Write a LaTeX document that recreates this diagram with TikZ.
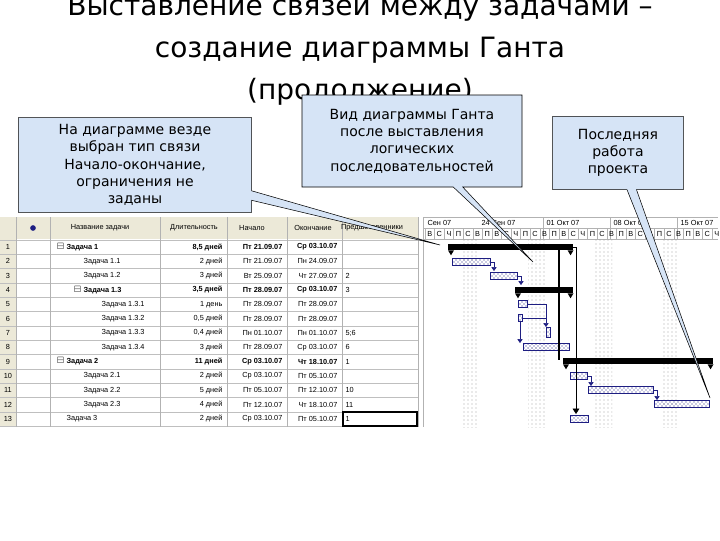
\documentclass[tikz,border=0pt]{standalone}
\usepackage{amssymb}
\usepackage{fontspec}
\setmainfont{DejaVu Sans}
\newfontfamily\tbl{Liberation Sans}
\usetikzlibrary{shapes.callouts,patterns,arrows.meta}
\definecolor{navyb}{RGB}{30,30,130}
\definecolor{hdr}{RGB}{236,233,216}
\definecolor{cbl}{RGB}{214,228,246}
\tikzset{
 cell/.style={font=\tbl\fontsize{5.5}{6}\selectfont,inner sep=1pt},
 callbox/.style={rectangle callout,draw=black,fill=cbl,font=\fontsize{10.5}{13}\selectfont,align=center,inner sep=3pt},
 taskbar/.style={draw=navyb,pattern=crosshatch dots,pattern color=navyb},
 sumbar/.style={fill=black},
 lnk/.style={draw=navyb,-{Triangle[length=3pt,width=4pt]}},
}
\begin{document}
\begin{tikzpicture}[x=0.75pt,y=-0.75pt]
\useasboundingbox (0,0) rectangle (720,540);
\fill[white] (0,0) rectangle (720,540);
% title
\node (t1) at (360,8) {\fontsize{21}{25}\selectfont Выставление связей между задачами –};
\node (t2) at (360,50) {\fontsize{21}{25}\selectfont создание диаграммы Ганта};
\node (t3) at (360,92) {\fontsize{21}{25}\selectfont (продолжение)};
% table
\fill[hdr] (0,217) rectangle (418,239);
\fill[hdr] (0,239) rectangle (16,427);
\foreach \i in {0,...,13} \draw[gray!50,line width=0.3pt] (0,{239.8+\i*14.33}) -- (418,{239.8+\i*14.33});
\foreach \x in {16,50,160,227,287,342} \draw[gray!60,line width=0.3pt] (\x,217) -- (\x,427);
\draw[gray!60] (418,217) -- (418,427) (423,217)--(423,427);
\node[circle,fill=navyb,inner sep=1.5pt] (ic) at (33,228) {};
\node[cell] (h1) at (100,228) {Название задачи};
\node[cell] (h2) at (194,228) {Длительность};
\node[cell] (h3) at (252,228) {Начало};
\node[cell] (h4) at (313,228) {Окончание};
\node[cell] (h5) at (372,228) {Предшественники};
\foreach \n/\ind/\nm/\d/\s/\e/\p [count=\k] in {
 {1/55/\textbf{$\boxminus$ Задача 1}/\textbf{8,5 дней}/\textbf{Пт 21.09.07}/\textbf{Ср 03.10.07}/},
 {2/82/Задача 1.1/2 дней/Пт 21.09.07/Пн 24.09.07/},
 {3/82/Задача 1.2/3 дней/Вт 25.09.07/Чт 27.09.07/2},
 {4/72/\textbf{$\boxminus$ Задача 1.3}/\textbf{3,5 дней}/\textbf{Пт 28.09.07}/\textbf{Ср 03.10.07}/3},
 {5/100/Задача 1.3.1/1 день/Пт 28.09.07/Пт 28.09.07/},
 {6/100/Задача 1.3.2/0,5 дней/Пт 28.09.07/Пт 28.09.07/},
 {7/100/Задача 1.3.3/0,4 дней/Пн 01.10.07/Пн 01.10.07/5;6},
 {8/100/Задача 1.3.4/3 дней/Пт 28.09.07/Ср 03.10.07/6},
 {9/55/\textbf{$\boxminus$ Задача 2}/\textbf{11 дней}/\textbf{Ср 03.10.07}/\textbf{Чт 18.10.07}/1},
 {10/82/Задача 2.1/2 дней/Ср 03.10.07/Пт 05.10.07/},
 {11/82/Задача 2.2/5 дней/Пт 05.10.07/Пт 12.10.07/10},
 {12/82/Задача 2.3/4 дней/Пт 12.10.07/Чт 18.10.07/11},
 {13/65/Задача 3/2 дней/Ср 03.10.07/Пт 05.10.07/1}}
{
 \pgfmathsetmacro\yy{247+(\k-1)*14.33}
 \node[cell] (n\k) at (8,\yy) {\n};
 \node[cell,anchor=west] (a\k) at (\ind,\yy) {\nm};
 \node[cell,anchor=east] (b\k) at (224,\yy) {\d};
 \node[cell,anchor=east] (c\k) at (284,\yy) {\s};
 \node[cell,anchor=east] (d\k) at (339,\yy) {\e};
 \node[cell,anchor=west] (e\k) at (344,\yy) {\p};
}
\draw[line width=1pt] (343,412) rectangle (417,426);
% timescale
\draw[gray!60] (423,228) -- (718,228) (423,239) -- (718,239) (423,217)--(718,217);
\foreach \x in {543,610,677} \draw[gray!60] (\x,217)--(\x,239);
\node[cell,anchor=west] (w1) at (426,222.5) {Сен 07};
\node[cell,anchor=west] (w2) at (480,222.5) {24 Сен 07};
\node[cell,anchor=west] (w3) at (545,222.5) {01 Окт 07};
\node[cell,anchor=west] (w4) at (612,222.5) {08 Окт 07};
\node[cell,anchor=west] (w5) at (679,222.5) {15 Окт 07};
\foreach \l [count=\j from 0] in {В,С,Ч,П,С,В,П,В,С,Ч,П,С,В,П,В,С,Ч,П,С,В,П,В,С,Ч,П,С,В,П,В,С,Ч}{
 \node[cell] (dl\j) at ({429.8+\j*9.57},233.5) {\l};
 \draw[gray!60] ({425+\j*9.57},228)--({425+\j*9.57},239);
}
\foreach \x in {462,528,595,662} \fill[pattern=dots,pattern color=gray!70] (\x,239) rectangle (\x+17,427);
% gantt bars
\node[sumbar,minimum width=125pt*0.75,minimum height=4.5pt,inner sep=0,anchor=west] (s1) at (448,247) {};
\node[sumbar,minimum width=58pt*0.75,minimum height=4.5pt,inner sep=0,anchor=west] (s13) at (515,290) {};
\node[sumbar,minimum width=150pt*0.75,minimum height=4.5pt,inner sep=0,anchor=west] (s2) at (563,361) {};
\foreach \s in {s1,s13,s2}{
 \fill (\s.south west) -- ++(6,0) -- ++(-3,5) -- cycle;
 \fill (\s.south east) -- ++(-6,0) -- ++(3,5) -- cycle;
}
\foreach \nm/\xa/\xb/\yy in {b11/452/490/262,b12/490/517/276,b131/518/527/304,b132/518/522/318,b134/523/569/347,b21/570/587/376,b22/588/653/390,b23/654/709/404,b3/570/588/419}
 \path[taskbar] (\xa,\yy-3.5) rectangle (\xb,\yy+3.5);
\path[taskbar] (546,327) rectangle (550,337);
% links
\draw[lnk] (490,262) -- (494,262) -- (494,271);
\draw[lnk] (517,276) -- (521,276) -- (521,285);
\draw[lnk] (527,304) -- (546,304) -- (546,327);
\draw[draw=navyb] (522,318) -- (546,318);
\draw[lnk] (520,321) -- (520,343);
\draw[line width=0.8pt] (559,250) -- (559,360);
\draw[-{Triangle[length=4pt,width=5pt]}] (573,247) -- (576,247) -- (576,414);
\draw[lnk] (587,376) -- (591,376) -- (591,386);
\draw[lnk] (653,390) -- (657,390) -- (657,400);
% callouts
\node[callbox,minimum width=175pt,minimum height=71pt,callout absolute pointer={(440,245)}] (c1) at (135,165)
 {На диаграмме везде\\выбран тип связи\\Начало-окончание,\\ограничения не\\заданы};
\node[callbox,minimum width=165pt,minimum height=69pt,callout absolute pointer={(533,262)}] (c2) at (412,141)
 {Вид диаграммы Ганта\\после выставления\\логических\\последовательностей};
\node[callbox,minimum width=98pt,minimum height=55pt,callout absolute pointer={(710,398)}] (c3) at (618,153)
 {Последняя\\работа\\проекта};
\end{tikzpicture}
\end{document}
